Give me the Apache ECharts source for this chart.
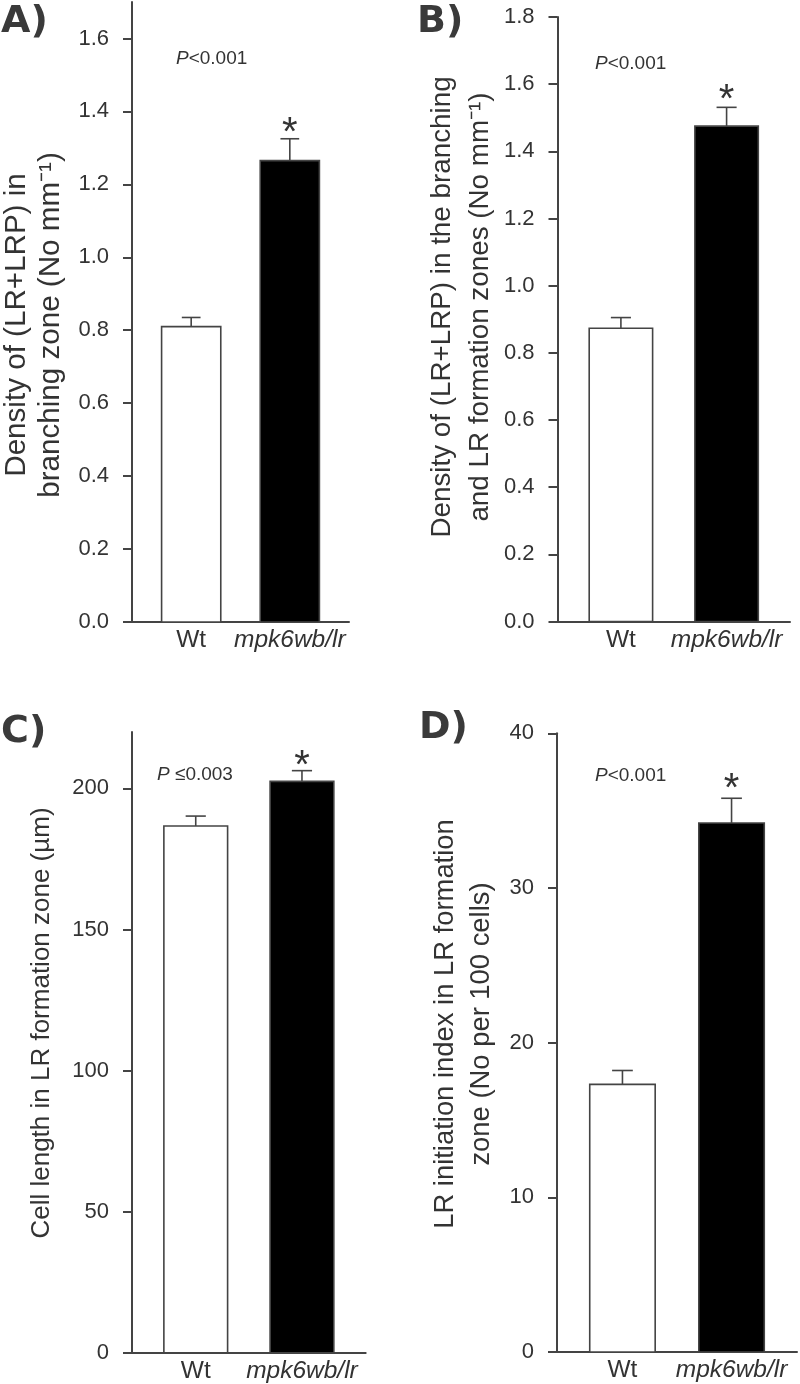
<!DOCTYPE html>
<html>
<head>
<meta charset="utf-8">
<script src="https://cdn.jsdelivr.net/npm/echarts@6/dist/echarts.min.js"></script>
<style>
html,body{margin:0;padding:0;background:#fff;}
#chart{width:800px;height:1384px;}
</style>
</head>
<body>
<div id="chart"></div>
<script>
// ---------- data ----------
const categories = ['Wt', 'mpk6wb/lr'];
const categoryPos = [1, 2];
const significance = ['', '*'];

const densityBranching = [0.81, 1.265];
const densityBranchingSE = [0.025, 0.06];

const densityBothZones = [0.873, 1.475];
const densityBothZonesSE = [0.032, 0.056];

const cellLength = [186.7, 202.5];
const cellLengthSE = [3.5, 3.8];

const initiationIndex = [17.3, 34.2];
const initiationIndexSE = [0.9, 1.6];

const ticksA = [0, 0.2, 0.4, 0.6, 0.8, 1.0, 1.2, 1.4, 1.6];
const ticksB = [0, 0.2, 0.4, 0.6, 0.8, 1.0, 1.2, 1.4, 1.6, 1.8];
const ticksC = [0, 50, 100, 150, 200];
const ticksD = [0, 10, 20, 30, 40];

const pTexts = ['<0.001', '<0.001', ' \u22640.003', '<0.001'];
const panelLabels = ['A)', 'B)', 'C)', 'D)'];
const yTitles = [
  'Density of (LR+LRP) in\nbranching zone (No mm\u207B\u00B9)',
  'Density of (LR+LRP) in the branching\nand LR formation zones (No mm\u207B\u00B9)',
  'Cell length in LR formation zone (\u00B5m)',
  'LR initiation index in LR formation\nzone (No per 100 cells)'
];

// ---------- layout / style ----------
const FONT = "'Liberation Sans', Arial, Helvetica, sans-serif";
const TEXT = '#333333';
const AXIS = '#444444';
const barFills = ['#ffffff', '#000000'];

const panels = [
  { grid: {left: 132, top: 2, width: 217, height: 620}, max: 1.7, ticks: ticksA, dec: 1,
    values: densityBranching, se: densityBranchingSE,
    titleX: 33.5, titleY: 325, titleSize: 29.6, titleLH: 34, labelX: 1, labelY: 3, pX: 176, pY: 59, starGap: 14 },
  { grid: {left: 557.5, top: 17, width: 232.5, height: 604.5}, max: 1.8, ticks: ticksB, dec: 1,
    values: densityBothZones, se: densityBothZonesSE,
    titleX: 461, titleY: 307, titleSize: 27.8, titleLH: 38, labelX: 417, labelY: 3, pX: 595, pY: 64, starGap: 15.5 },
  { grid: {left: 132, top: 732, width: 233.7, height: 620.7}, max: 220, ticks: ticksC, dec: 0,
    values: cellLength, se: cellLengthSE,
    titleX: 42, titleY: 1023, titleSize: 26, titleLH: 30, labelX: 1, labelY: 713, pX: 157, pY: 775, starGap: 12.5 },
  { grid: {left: 557, top: 733.3, width: 240, height: 618.7}, max: 40, ticks: ticksD, dec: 0,
    values: initiationIndex, se: initiationIndexSE,
    titleX: 463, titleY: 1024, titleSize: 27.4, titleLH: 36, labelX: 419, labelY: 709, pX: 595, pY: 776, starGap: 17 }
];

const grids = [], xAxes = [], yAxes = [], series = [], graphics = [];

panels.forEach((p, i) => {
  grids.push(Object.assign({containLabel: false}, p.grid));
  xAxes.push({
    type: 'value', gridIndex: i, min: 0.4, max: 2.6,
    axisLine: {show: true, onZero: false, lineStyle: {color: AXIS, width: 2}},
    axisTick: {show: false},
    splitLine: {show: false},
    axisLabel: {
      customValues: categoryPos,
      margin: 6,
      color: TEXT, fontFamily: FONT, fontSize: 24.5,
      formatter: v => {
        const k = categoryPos.indexOf(Math.round(v));
        if (k < 0) return '';
        return k === 1 ? '{it|' + categories[k] + '}' : categories[k];
      },
      rich: {it: {fontStyle: 'italic', fontFamily: FONT, fontSize: 24.5, color: TEXT}}
    }
  });
  yAxes.push({
    type: 'value', gridIndex: i, min: 0, max: p.max,
    axisLine: {show: true, lineStyle: {color: AXIS, width: 2}},
    axisTick: {show: true, customValues: p.ticks, length: 9, lineStyle: {color: AXIS, width: 2}},
    splitLine: {show: false},
    axisLabel: {
      customValues: p.ticks, margin: 23, color: TEXT, fontFamily: FONT, fontSize: 22,
      formatter: v => Number(v).toFixed(p.dec)
    }
  });
  const data = categoryPos.map((x, k) => [x, p.values[k], p.se[k]]);
  series.push({
    type: 'custom', xAxisIndex: i, yAxisIndex: i, data: data, clip: false, z: 3,
    renderItem: (params, api) => {
      const k = params.dataIndex;
      const x = api.value(0), v = api.value(1), e = api.value(2);
      const tl = api.coord([x - 0.3, v]);
      const br = api.coord([x + 0.3, 0]);
      const top = api.coord([x, v + e]);
      const cl = api.coord([x - 0.095, v + e]);
      const cr = api.coord([x + 0.095, v + e]);
      const children = [
        {type: 'line', shape: {x1: top[0], y1: tl[1], x2: top[0], y2: top[1]},
          style: {stroke: AXIS, lineWidth: 1.6}},
        {type: 'line', shape: {x1: cl[0], y1: top[1], x2: cr[0], y2: top[1]},
          style: {stroke: AXIS, lineWidth: 1.6}},
        {type: 'rect', shape: {x: tl[0], y: tl[1], width: br[0] - tl[0], height: br[1] - tl[1]},
          style: {fill: barFills[k], stroke: AXIS, lineWidth: 1.6}}
      ];
      if (significance[k]) {
        children.push({type: 'text', x: top[0], y: top[1] - p.starGap + 9,
          style: {text: significance[k], fill: TEXT, font: '40px ' + FONT,
            align: 'center', verticalAlign: 'middle'}});
      }
      return {type: 'group', children: children};
    }
  });
  // y axis title
  graphics.push({
    type: 'text', x: p.titleX, y: p.titleY, rotation: Math.PI / 2,
    style: {text: yTitles[i], fill: TEXT, fontFamily: FONT, fontSize: p.titleSize,
      lineHeight: p.titleLH, align: 'center', verticalAlign: 'middle'}
  });
  // panel label
  graphics.push({
    type: 'text', x: p.labelX, y: p.labelY,
    style: {text: panelLabels[i], fill: '#3a3a3a', fontFamily: "'DejaVu Sans', sans-serif",
      fontWeight: 900, fontSize: 38, align: 'left', verticalAlign: 'top'}
  });
  // P value
  graphics.push({
    type: 'text', x: p.pX, y: p.pY,
    style: {text: '{i|P}' + pTexts[i], fill: TEXT, fontFamily: FONT, fontSize: 19,
      align: 'left', verticalAlign: 'middle',
      rich: {i: {fontStyle: 'italic', fontFamily: FONT, fontSize: 19, fill: TEXT}}}
  });
});

const chart = echarts.init(document.getElementById('chart'), null, {renderer: 'canvas'});
chart.setOption({
  animation: false,
  backgroundColor: '#ffffff',
  grid: grids, xAxis: xAxes, yAxis: yAxes, series: series, graphic: graphics
});
</script>
</body>
</html>
